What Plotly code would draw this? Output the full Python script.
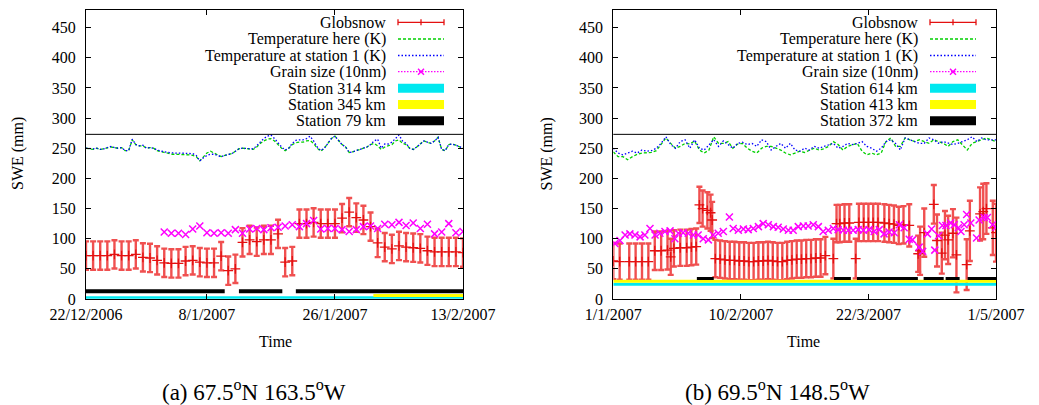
import pandas as pd
import plotly.graph_objects as go

W, H = 1039, 405
FONT = "Liberation Serif"

# ---------------- shared ----------------
y_ticks = [0, 50, 100, 150, 200, 250, 300, 350, 400, 450]
y_max = 480
freeze_k = 273
legend_labels_common = ["Globsnow", "Temperature here (K)", "Temperature at station 1 (K)", "Grain size (10nm)"]

# ---------------- panel (a) 67.5N 163.5W ----------------
a_caption = "(a) 67.5<sup>o</sup>N 163.5<sup>o</sup>W"
a_range = ["2006-12-22", "2007-02-13"]
a_tickvals = ["2006-12-22", "2007-01-08", "2007-01-26", "2007-02-13"]
a_ticktext = ["22/12/2006", "8/1/2007", "26/1/2007", "13/2/2007"]

a_gs_start = "2006-12-22"          # daily
a_globsnow = [72, 72, 72, 72, 74, 72, 72, 74, 69, 68, 64, 60, 59, 59, 63, 64,
              61, 60, 60, 71, 47, 50, 94, 98, 95, 98, 98, 108, 61, 63,
              125, 125, 127, 125, 125, 125, 134, 144, 135, 131, 120,
              93, 86, 83, 88, 86, 85, 84, 80, 78, 78, 78, 78, 77]
a_globsnow_err = 23.5

a_temp_start = "2006-12-22"        # every 12 h
a_temp_here = [250, 249, 248, 250, 248, 249, 251, 252, 251, 250,
               251, 246, 246, 264, 256, 254, 254, 250, 251, 250,
               246, 244, 243, 242, 240, 240, 240, 240, 239, 239,
               238, 236, 229, 236, 242, 245, 242, 239, 236, 238,
               240, 241, 245, 249, 250, 249, 249, 248, 252, 258,
               262, 265, 266, 262, 256, 250, 246, 250, 256, 259,
               260, 260, 262, 263, 258, 250, 245, 250, 258, 266,
               270, 262, 256, 252, 243, 244, 246, 248, 250, 252,
               256, 258, 254, 248, 252, 254, 256, 262, 264, 258,
               256, 250, 248, 252, 257, 262, 260, 258, 262, 268,
               248, 246, 256, 257, 255, 252, 250]
a_temp_st1 = [250, 249, 249, 250, 248, 249, 251, 253, 251, 250,
              251, 246, 246, 265, 256, 254, 255, 250, 251, 250,
              247, 245, 244, 243, 242, 242, 242, 242, 242, 242,
              241, 238, 229, 234, 238, 240, 240, 238, 236, 238,
              240, 241, 245, 249, 250, 250, 250, 249, 254, 260,
              266, 270, 272, 266, 258, 252, 247, 250, 258, 263,
              264, 264, 266, 270, 262, 252, 246, 250, 258, 266,
              270, 262, 256, 252, 243, 244, 246, 248, 250, 252,
              256, 262, 265, 250, 257, 257, 260, 266, 272, 262,
              258, 250, 248, 252, 257, 262, 260, 258, 262, 268,
              248, 246, 256, 257, 255, 252, 250]

a_grain_start = "2007-01-02"       # daily
a_grain = [111, 109, 109, 107, 116, 121, 110, 109, 110, 109, 115, 109, 116, 117,
           115, 118, 119, 121, 123, 120, 125, 130, 116, 117, 117, 115, 112, 115,
           120, 121, 117, 124, 123, 127, 122, 126, 117, 124, 108, 111, 125, 110, 112]

a_station_names = ["Station 314 km", "Station 345 km", "Station 79 km"]
a_station_segments = [[(0, 53)], [(40.4, 53)], [(0, 19.5), (21.5, 27.6), (29.5, 53)]]
a_station_levels = [2.5, 6, 13]

# ---------------- panel (b) 69.5N 148.5W ----------------
b_caption = "(b) 69.5<sup>o</sup>N 148.5<sup>o</sup>W"
b_start = "2007-01-01"
b_range = ["2007-01-01", "2007-05-01"]
b_tickvals = ["2007-01-01", "2007-02-10", "2007-03-22", "2007-05-01"]
b_ticktext = ["1/1/2007", "10/2/2007", "22/3/2007", "1/5/2007"]

b_gs_day = [0, 2, 5, 7, 9, 11,
            13, 15, 17, 18,
            19, 21, 23, 24.5, 26,
            27, 28, 29.5, 30.5, 31,
            32, 33.5, 35, 36.5, 38, 39.5, 41, 42.5, 44, 45.5, 47, 48.5,
            50, 51.5, 53, 54.5, 56, 57.5, 59, 60.5, 62, 63.5, 65, 66.5,
            69, 70, 71, 72.5, 74, 76,
            77, 78.5, 80, 81.5, 83, 85, 86.5, 88, 89.5, 91, 92.8,
            95.6, 96.2, 97.5, 100.5, 101.5, 103, 104, 105, 106.5, 107.6,
            110.8, 111.8, 115, 116, 117, 119, 120]
b_globsnow = [63, 62, 62, 62, 62, 62,
              80, 80, 81, 70,
              84, 85, 85, 86, 87,
              156, 150, 147, 143, 131,
              67, 66, 65, 64, 64, 63, 63, 62, 62, 63, 63, 64,
              63, 62, 62, 64, 65, 66, 66, 67, 67, 68, 68, 72,
              67, 125, 125, 126, 126, 67,
              127, 127, 127, 127, 127, 126, 125, 124, 122, 123, 122,
              75, 80, 110, 157, 97, 76, 106, 98, 109, 73,
              57, 113, 141, 145, 150, 118, 110]
b_globsnow_err = [30, 30, 30, 30, 30, 30,
                  32, 32, 32, 30,
                  30, 30, 30, 30, 30,
                  30, 30, 30, 30, 30,
                  31, 31, 31, 31, 31, 31, 31, 31, 31, 31, 31, 31,
                  31, 31, 31, 31, 31, 31, 31, 31, 31, 31, 31, 31,
                  33, 31, 31, 31, 31, 33,
                  31, 31, 31, 31, 31, 31, 31, 31, 31, 31, 35,
                  30, 40, 40, 32, 43, 34, 40, 40, 40, 62,
                  42, 50, 44, 46, 42, 45, 48]

# temperatures every 36 h
b_temp_here = [244, 236, 236, 231, 236, 240, 242, 242, 243, 246, 256, 267, 258, 250,
               253, 258, 257, 262, 247, 242, 247, 269, 258, 258, 261, 250, 257, 258,
               250, 245, 242, 250, 253, 253, 250, 247, 242, 239, 242, 245, 243, 246,
               250, 247, 249, 253, 261, 256, 247, 253, 256, 258, 245, 239, 242,
               239, 242, 261, 267, 253, 253, 267, 264, 261, 264, 261, 258, 264,
               261, 258, 253, 261, 264, 256, 247, 258, 261, 264, 267, 264, 261]
b_temp_st1 = [250, 242, 239, 242, 245, 242, 247, 245, 246, 250, 258, 269, 256, 250,
              261, 264, 250, 264, 250, 247, 256, 264, 253, 262, 256, 250, 258, 260,
              256, 258, 253, 264, 261, 247, 253, 258, 250, 258, 247, 245, 250, 247,
              253, 250, 253, 256, 258, 250, 253, 258, 256, 258, 261, 253, 250,
              245, 250, 261, 264, 258, 247, 267, 264, 261, 258, 258, 267, 264,
              258, 261, 258, 256, 258, 261, 264, 269, 261, 267, 264, 264, 264]

b_grain_day = [0.5, 2.1, 3.7, 5.2, 6.8, 8.4, 9.9, 11.5, 13.1, 14.6,
               16.2, 17.8, 19.3, 20.4, 21.9, 23.5, 25.1, 26.6, 28.2, 29.8,
               31.3, 32.9, 34.5, 36.4, 37.6, 39.2, 40.8, 42.3, 43.9, 45.5,
               47, 48.6, 50.2, 51.7, 53.3, 54.9, 56.4, 58, 59.6, 61.1,
               62.7, 64.3, 65.8, 67.4, 69, 70.5, 72.1, 73.7, 75.2, 76.8, 78.4,
               80.2, 81.8, 83.4, 84.9, 86.5, 88.1, 89.7, 91.2, 92.8, 93.8,
               95.9, 97, 98.5, 99.8, 100.8, 102, 103.2, 104.3, 105.8, 106.9,
               108.2, 109, 110, 110.8, 112.1, 113.9, 114.7, 116.3, 117.3, 118.9, 120]
b_grain = [92, 97, 106, 108, 106, 103, 106, 117, 106, 109,
           112, 113, 100, 109, 110, 109, 106, 106, 100, 98,
           106, 109, 112, 136, 117, 114, 116, 115, 117, 120,
           125, 123, 120, 119, 116, 114, 114, 120, 121, 121,
           123, 120, 112, 114, 117, 115, 114, 114, 114, 115, 114,
           115, 112, 115, 108, 111, 110, 123, 118, 99, 98,
           86, 79, 108, 116, 81, 105, 122, 122, 126, 123,
           118, 112, 123, 140, 126, 101, 131, 135, 135, 123, 119]

b_station_names = ["Station 614 km", "Station 413 km", "Station 372 km"]
b_station_segments = [[(0, 120)], [(0, 120)],
                      [(26.2, 31.5), (69.2, 74.5), (76.4, 95.5), (97.3, 103.6), (104.2, 108.6), (111.1, 120)]]
b_station_levels = [24.5, 29.5, 34]

# ---------------- styles ----------------
RED = "#e41010"
ERR = "#f05050"
GREEN = "#00d000"
BLUE = "#0000ff"
MAGENTA = "#ff00ff"
station_colors = ["#00e8f0", "#ffff00", "#000000"]
station_widths_a = [2.5, 3, 4]
station_widths_b = [3, 3, 3]


def to_dates(start, days):
    return pd.Timestamp(start) + pd.to_timedelta(pd.Series(days, dtype=float), unit="D")


def seg_xy(start, segs, level):
    xs, ys = [], []
    for s, e in segs:
        xs += [pd.Timestamp(start) + pd.Timedelta(days=s), pd.Timestamp(start) + pd.Timedelta(days=e), None]
        ys += [level, level, None]
    return xs, ys


fig = go.Figure()


def add_panel(xa, ya, gs_x, gs_y, gs_err, t_x, t_here, t_st1, g_x, g_y,
              st_start, st_segs, st_levels, st_widths):
    err = dict(type="constant", value=gs_err) if not isinstance(gs_err, list) else dict(type="data", array=gs_err)
    err.update(color=ERR, thickness=2.4, width=3, visible=True)
    fig.add_trace(go.Scatter(x=gs_x, y=gs_y, mode="markers", xaxis=xa, yaxis=ya,
                             marker=dict(symbol="cross-thin-open", size=7, color=RED,
                                         line=dict(color=RED, width=1.3)),
                             error_y=err, showlegend=False))
    fig.add_trace(go.Scatter(x=t_x, y=t_here, mode="lines", xaxis=xa, yaxis=ya,
                             line=dict(color=GREEN, width=1.3, dash="3px,2px"), showlegend=False))
    fig.add_trace(go.Scatter(x=t_x, y=t_st1, mode="lines", xaxis=xa, yaxis=ya,
                             line=dict(color=BLUE, width=1.3, dash="1.5px,2px"), showlegend=False))
    fig.add_trace(go.Scatter(x=g_x, y=g_y, mode="markers", xaxis=xa, yaxis=ya,
                             marker=dict(symbol="x-thin-open", size=7, color=MAGENTA,
                                         line=dict(color=MAGENTA, width=1.5)),
                             showlegend=False))
    for segs, lvl, col, w in zip(st_segs, st_levels, station_colors, st_widths):
        xs, ys = seg_xy(st_start, segs, lvl)
        fig.add_trace(go.Scatter(x=xs, y=ys, mode="lines", xaxis=xa, yaxis=ya,
                                 line=dict(color=col, width=w), showlegend=False, connectgaps=False))


a_gs_x = pd.date_range(a_gs_start, periods=len(a_globsnow), freq="D")
a_t_x = pd.date_range(a_temp_start, periods=len(a_temp_here), freq="12h")
a_g_x = pd.date_range(a_grain_start, periods=len(a_grain), freq="D")
add_panel("x", "y", a_gs_x, a_globsnow, a_globsnow_err, a_t_x, a_temp_here, a_temp_st1,
          a_g_x, a_grain, a_range[0], a_station_segments, a_station_levels, station_widths_a)

b_gs_x = to_dates(b_start, b_gs_day)
b_t_x = pd.date_range(b_start, periods=len(b_temp_here), freq="36h")
b_g_x = to_dates(b_start, b_grain_day)
add_panel("x2", "y2", b_gs_x, b_globsnow, b_globsnow_err, b_t_x, b_temp_here, b_temp_st1,
          b_g_x, b_grain, b_start, b_station_segments, b_station_levels, station_widths_b)


def px_x(px):
    return px / W


def px_y(py):
    return 1 - py / H


tickfont = dict(family=FONT, size=16, color="black")
common_x = dict(type="date", ticks="inside", ticklen=5, tickcolor="black", showline=True, linecolor="black",
                linewidth=1, mirror="ticks", showgrid=False, zeroline=False, tickfont=tickfont,
                ticklabelstandoff=1, automargin=False)
common_y = dict(range=[0, y_max], tickvals=y_ticks, ticks="inside", ticklen=5, tickcolor="black",
                showline=True, linecolor="black", linewidth=1, mirror="ticks", showgrid=False,
                zeroline=False, tickfont=tickfont, ticklabelstandoff=6, automargin=False)

ydom = [px_y(299), px_y(9.5)]
fig.update_layout(
    width=W, height=H, margin=dict(l=0, r=0, t=0, b=0, autoexpand=False),
    paper_bgcolor="white", plot_bgcolor="white", showlegend=False,
    xaxis=dict(domain=[px_x(86), px_x(463)], range=a_range, tickvals=a_tickvals, ticktext=a_ticktext,
               anchor="y", **common_x),
    yaxis=dict(domain=ydom, anchor="x", **common_y),
    xaxis2=dict(domain=[px_x(613.3), px_x(996)], range=b_range, tickvals=b_tickvals, ticktext=b_ticktext,
                anchor="y2", **common_x),
    yaxis2=dict(domain=ydom, anchor="x2", **common_y),
)

shapes = []
annotations = []
for xr, yr in (("x", "y"), ("x2", "y2")):
    shapes.append(dict(type="line", xref=f"{xr} domain", x0=0, x1=1, yref=yr, y0=freeze_k, y1=freeze_k,
                       line=dict(color="black", width=1)))

rows = [22.3, 39, 55.5, 71.7, 88.3, 104.5, 120.8]


def legend(text_right, s0, s1, names):
    labels = legend_labels_common + names
    for lab, ry in zip(labels, rows):
        annotations.append(dict(x=px_x(text_right), y=px_y(ry), xref="paper", yref="paper", text=lab,
                                showarrow=False, xanchor="right", yanchor="middle",
                                font=dict(family=FONT, size=16, color="black")))
    mid = (s0 + s1) / 2

    def ln(x0, y0, x1, y1, color, width, dash=None):
        d = dict(type="line", xref="paper", yref="paper", x0=px_x(x0), x1=px_x(x1), y0=px_y(y0), y1=px_y(y1),
                 line=dict(color=color, width=width))
        if dash:
            d["line"]["dash"] = dash
        shapes.append(d)

    r = rows[0]
    ln(s0, r, s1, r, RED, 1.3)
    ln(s0, r - 3, s0, r + 3, RED, 1.3)
    ln(s1, r - 3, s1, r + 3, RED, 1.3)
    ln(mid, r - 3, mid, r + 3, RED, 1.3)
    r = rows[1]
    ln(s0, r, s1, r, GREEN, 1.3, "3px,2px")
    r = rows[2]
    ln(s0, r, s1, r, BLUE, 1.3, "1.5px,2px")
    r = rows[3]
    ln(s0, r, s1, r, MAGENTA, 1.2, "1.5px,1.5px")
    ln(mid - 3, r - 3, mid + 3, r + 3, MAGENTA, 1.5)
    ln(mid - 3, r + 3, mid + 3, r - 3, MAGENTA, 1.5)
    for ry, col in zip(rows[4:], station_colors):
        shapes.append(dict(type="rect", xref="paper", yref="paper", x0=px_x(s0), x1=px_x(s1),
                           y0=px_y(ry - 4.5), y1=px_y(ry + 4.5), fillcolor=col, line=dict(width=0)))


legend(388, 398, 444, a_station_names)
legend(920, 930, 976, b_station_names)

for cx, tx in ((18, 275), (546.5, 803)):
    annotations.append(dict(x=px_x(cx), y=px_y(154), xref="paper", yref="paper", text="SWE (mm)",
                            textangle=-90, showarrow=False, xanchor="center", yanchor="middle",
                            font=dict(family=FONT, size=16, color="black")))
    annotations.append(dict(x=px_x(tx), y=px_y(341), xref="paper", yref="paper", text="Time",
                            showarrow=False, xanchor="center", yanchor="middle",
                            font=dict(family=FONT, size=16, color="black")))

annotations.append(dict(x=px_x(254), y=px_y(390), xref="paper", yref="paper", text=a_caption,
                        showarrow=False, xanchor="center", yanchor="middle",
                        font=dict(family=FONT, size=23, color="black")))
annotations.append(dict(x=px_x(777), y=px_y(390), xref="paper", yref="paper", text=b_caption,
                        showarrow=False, xanchor="center", yanchor="middle",
                        font=dict(family=FONT, size=23, color="black")))

fig.update_layout(shapes=shapes, annotations=annotations)
fig.write_html("out.html")
